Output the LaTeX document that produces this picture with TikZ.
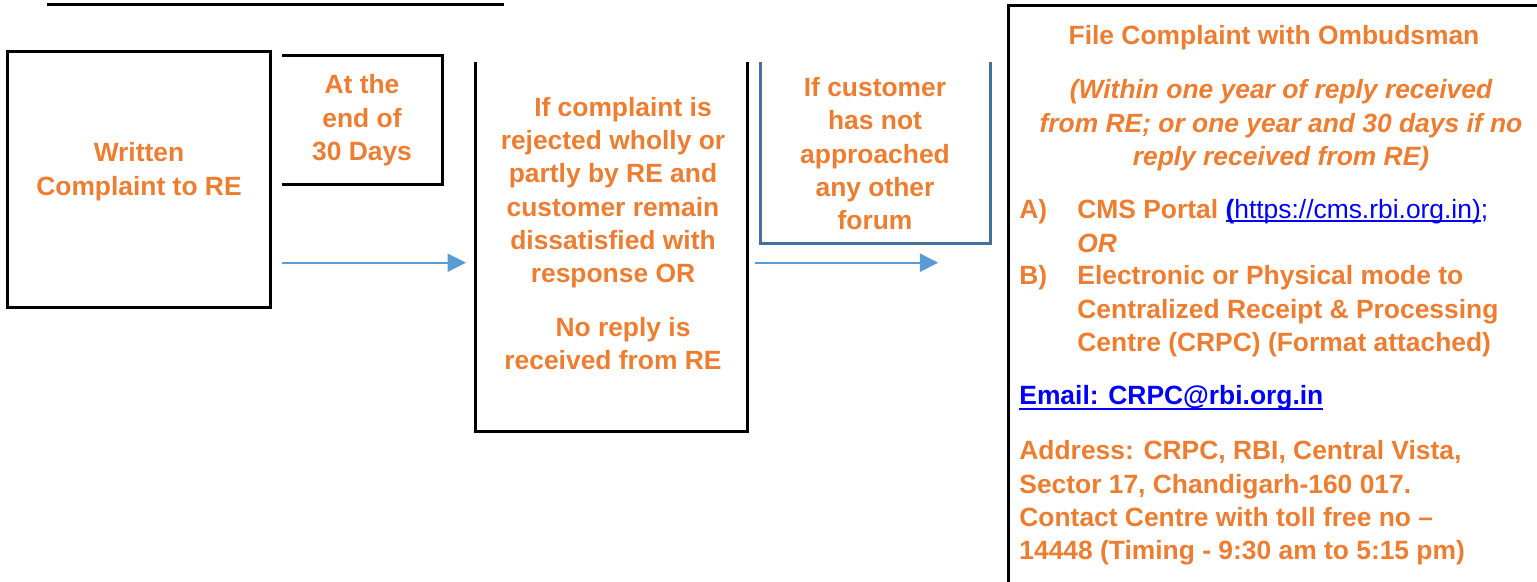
\documentclass[tikz,border=0pt]{standalone}
\usepackage{fontspec}
\setmainfont{Liberation Sans}
\usetikzlibrary{arrows.meta}
\definecolor{orng}{HTML}{ED7D31}
\definecolor{lnkblue}{HTML}{0000FF}
\definecolor{boxblue}{HTML}{41719C}
\definecolor{arrblue}{HTML}{5B9BD5}
\newsavebox\ulbox
\newcommand{\myul}[3]{\sbox\ulbox{#3}\rlap{\rule[#1]{\wd\ulbox}{#2}}\usebox\ulbox}
\newcommand{\fsz}{\fontsize{13.2}{16.6}\selectfont}
\begin{document}
\begin{tikzpicture}[x=0.5pt,y=-0.5pt,
  blk/.style={line width=1.5pt,black},
  bluebox/.style={line width=1.5pt,boxblue},
  flow/.style={line width=1pt,arrblue,-{Triangle[length=9.2pt,width=9pt]}},
  txt/.style={inner sep=0pt,text=orng,font=\fsz\bfseries},
]
\useasboundingbox (0,0) rectangle (1537,582);
\clip (0,0) rectangle (1537,582);
\fill[white] (0,0) rectangle (1537,582);
% top line
\draw[line width=1.2pt] (47,4.5) -- (504,4.5);
% box 1
\draw[blk] (7,52) rectangle (270,308);
% box 2 (open on the left)
\draw[blk] (282,56) -- (442.5,56) -- (442.5,184.5) -- (282,184.5);
% box 3 (open on top)
\draw[blk] (475.5,62) -- (475.5,432) -- (747,432) -- (747,62);
% box 4 (blue, open on top)
\draw[bluebox] (760.5,62) -- (760.5,244) -- (990.7,244) -- (990.7,62);
% box 5
\draw[blk] (1008,600) -- (1008,5.3) -- (1560,5.3);
% arrows
\coordinate (a1s) at (282,262.7);
\coordinate (a1e) at (466,262.7);
\coordinate (a2s) at (755,262.7);
\coordinate (a2e) at (938.3,262.7);
\draw[flow] (a1s) -- (a1e);
\draw[flow] (a2s) -- (a2e);
% texts
\node[txt,anchor=base] (t1) at (139,162) {\parbox[t]{150pt}{\centering Written\\Complaint to RE}};
\node[txt,anchor=base] (t2) at (362,94) {\parbox[t]{90pt}{\centering At the\\end of\\30 Days}};
\node[txt,anchor=base] (t3) at (613,116.5) {\parbox[t]{160pt}{\centering \hspace*{10pt}If complaint is\\rejected wholly or\\partly by RE and\\customer remain\\dissatisfied with\\response OR\\[10.4pt]\hspace*{10pt}No reply is\\received from RE}};
\node[txt,anchor=base] (t4) at (875,96.7) {\parbox[t]{110pt}{\centering If customer\\has not\\approached\\any other\\forum}};
\node[txt,anchor=base] (h5) at (1274,45) {File Complaint with Ombudsman};
\node[txt,anchor=base] (i5) at (1281,99) {\parbox[t]{260pt}{\centering\itshape (Within one year of reply received\\from RE; or one year and 30 days if no\\reply received from RE)}};
\node[txt,anchor=base west] (la) at (1019,219) {A)};
\node[txt,anchor=base west] (ta) at (1077,219) {\parbox[t]{220pt}{\raggedright CMS Portal {\color{lnkblue}\myul{-1.3pt}{0.65pt}{(\mdseries https://cms.rbi.org.in)}\mdseries;}\\\textit{OR}}};
\node[txt,anchor=base west] (lb) at (1019,285) {B)};
\node[txt,anchor=base west] (tb) at (1077,285) {\parbox[t]{240pt}{\raggedright Electronic or Physical mode to\\Centralized Receipt \& Processing\\Centre (CRPC) (Format attached)}};
\node[txt,anchor=base west,text=lnkblue] (em) at (1019,405) {\myul{-2.3pt}{1pt}{Email: CRPC@rbi.org.in}};
\node[txt,anchor=base west] (ad) at (1019,460) {\parbox[t]{250pt}{\raggedright Address: CRPC, RBI, Central Vista,\\Sector 17, Chandigarh-160 017.\\Contact Centre with toll free no –\\14448 (Timing - 9:30 am to 5:15 pm)}};
\end{tikzpicture}
\end{document}
